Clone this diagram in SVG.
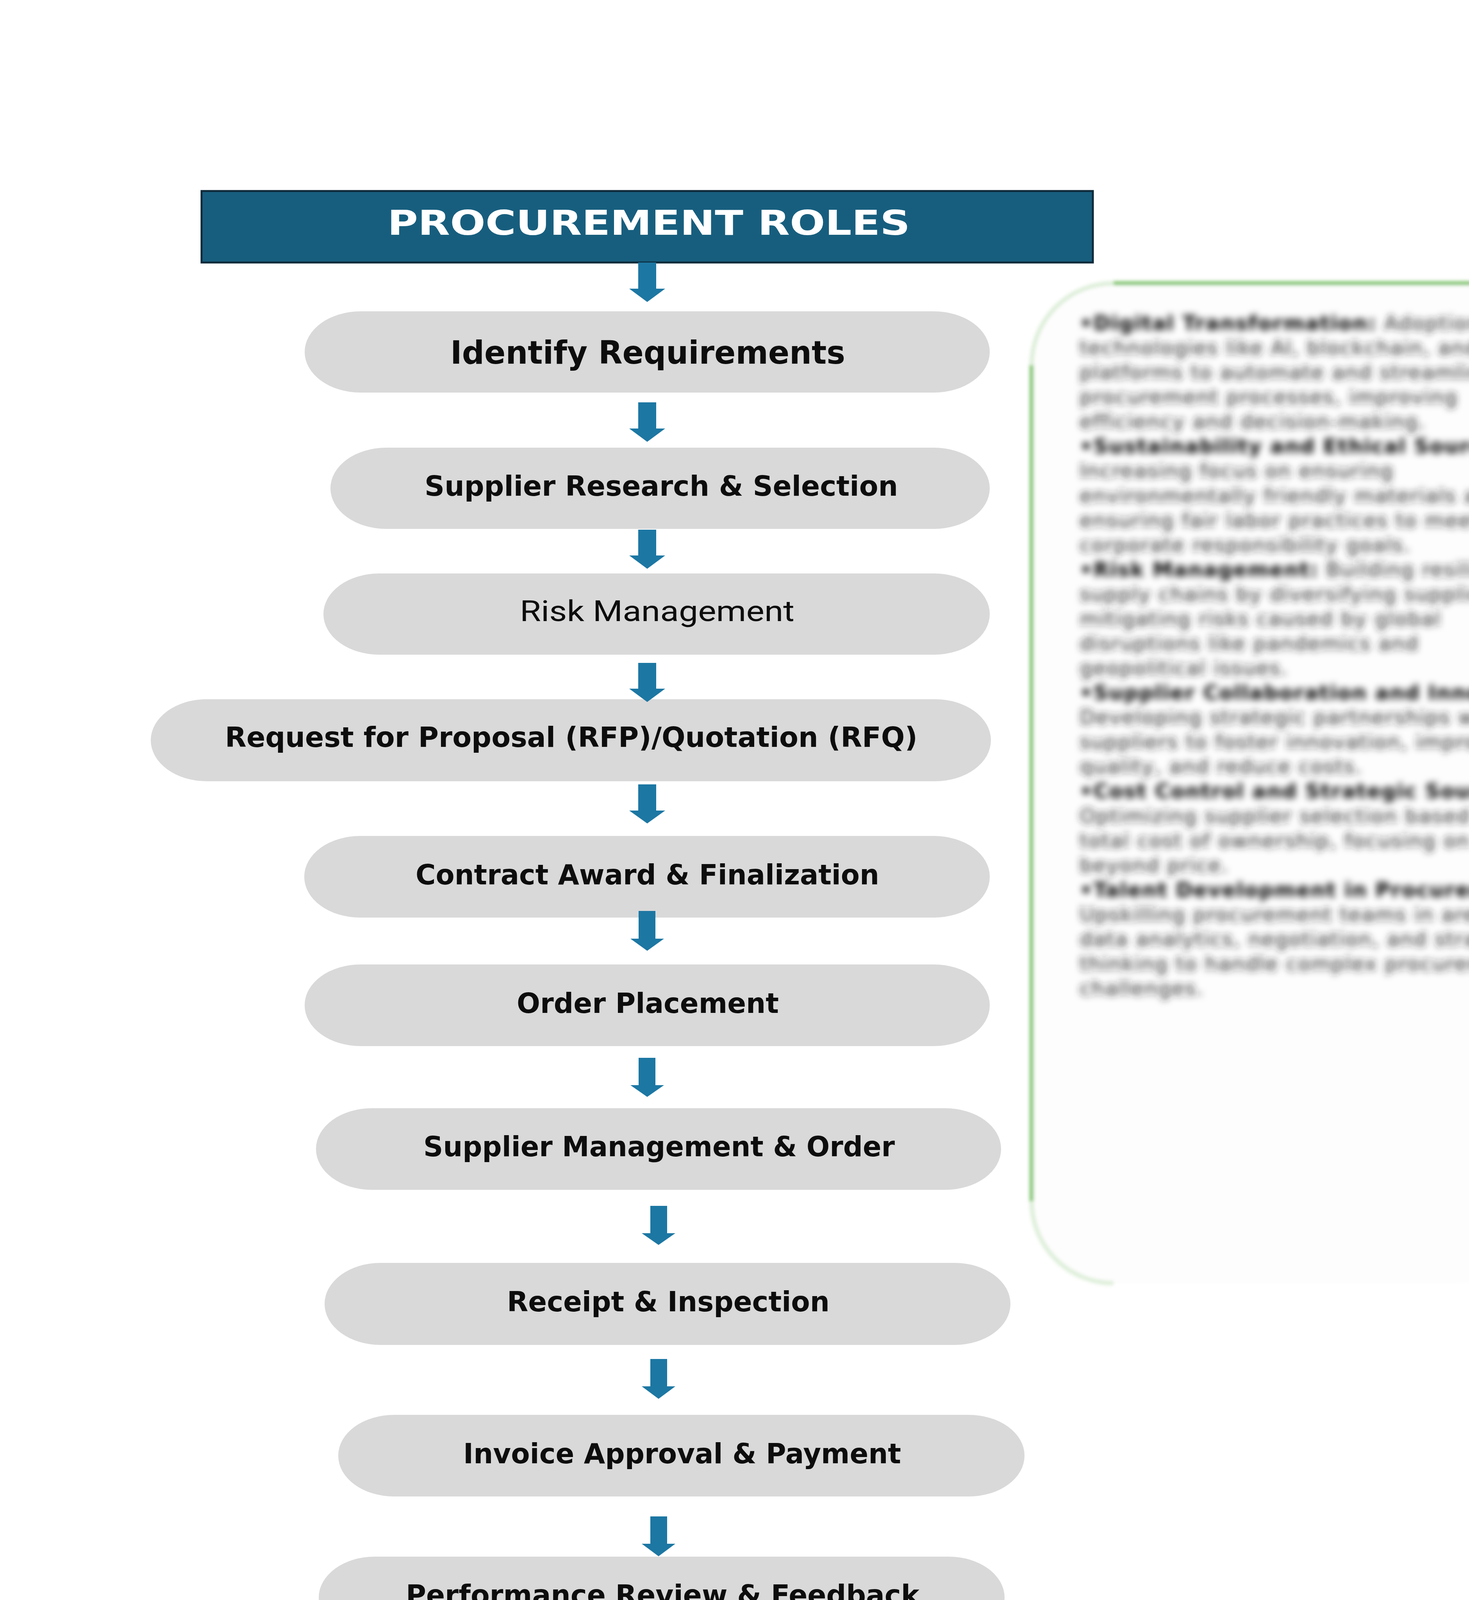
<svg xmlns="http://www.w3.org/2000/svg" width="3761" height="4146" viewBox="0 0 3761 4146">
<defs>
<style>
.pill{fill:#d9d9d9;}
.lbl{font-family:"DejaVu Sans","Liberation Sans",sans-serif;font-weight:bold;fill:#0d0d0d;font-size:72px;}
.lblr{font-family:Roboto,"Liberation Sans",sans-serif;font-weight:normal;fill:#0d0d0d;font-size:75px;}
.arrow{fill:#1c77a3;}
.ptxt{font-family:"DejaVu Sans","Liberation Sans",sans-serif;font-size:52px;letter-spacing:2px;fill:#262626;}
.pb{font-weight:bold;fill:#000;}
.gl{fill:none;stroke:#8cc97a;stroke-width:11;}
.glc{fill:none;stroke:#8cc97a;stroke-width:11;opacity:0.3;}
</style>
<filter id="blurT" filterUnits="userSpaceOnUse" x="2550" y="650" width="1300" height="2750">
<feGaussianBlur stdDeviation="9"/>
</filter>
<filter id="blurB" filterUnits="userSpaceOnUse" x="2550" y="650" width="1300" height="2750">
<feGaussianBlur stdDeviation="4"/>
</filter>
</defs>
<rect x="0" y="0" width="3761" height="4146" fill="#ffffff"/>

<g id="header">
<rect x="516" y="489" width="2282" height="183" fill="#175e7e" stroke="#0e2a3a" stroke-width="5"/>
<text x="992" y="601" textLength="1338" lengthAdjust="spacingAndGlyphs" style="font-family:'DejaVu Sans','Liberation Sans',sans-serif;font-weight:bold;font-size:88px;fill:#ffffff;">PROCUREMENT ROLES</text>
</g>

<g id="trends-panel">
<g filter="url(#blurB)">
<rect x="2641" y="725" width="1300" height="2560" rx="210" ry="210" fill="#fdfdfd"/>
<path class="gl" d="M2641,935 L2641,3075"/>
<path class="gl" d="M2851,725 L3775,725"/>
<path class="glc" d="M2641,935 A210,210 0 0 1 2851,725"/>
<path class="glc" d="M2641,3075 A210,210 0 0 0 2851,3285"/>
</g>
<g filter="url(#blurT)" class="ptxt">
<text x="2764" y="845"><tspan class="pb">•Digital Transformation:</tspan> Adoption of</text>
<text x="2764" y="908">technologies like AI, blockchain, and</text>
<text x="2764" y="971">platforms to automate and streamline</text>
<text x="2764" y="1034">procurement processes, improving</text>
<text x="2764" y="1097">efficiency and decision-making.</text>
<text x="2764" y="1160"><tspan class="pb">•Sustainability and Ethical Sourcing:</tspan></text>
<text x="2764" y="1223">Increasing focus on ensuring</text>
<text x="2764" y="1287">environmentally friendly materials and</text>
<text x="2764" y="1350">ensuring fair labor practices to meet</text>
<text x="2764" y="1413">corporate responsibility goals.</text>
<text x="2764" y="1476"><tspan class="pb">•Risk Management:</tspan> Building resilient</text>
<text x="2764" y="1539">supply chains by diversifying suppliers</text>
<text x="2764" y="1602">mitigating risks caused by global</text>
<text x="2764" y="1665">disruptions like pandemics and</text>
<text x="2764" y="1728">geopolitical issues.</text>
<text x="2764" y="1791"><tspan class="pb">•Supplier Collaboration and Innovation:</tspan></text>
<text x="2764" y="1854">Developing strategic partnerships with</text>
<text x="2764" y="1917">suppliers to foster innovation, improve</text>
<text x="2764" y="1980">quality, and reduce costs.</text>
<text x="2764" y="2043"><tspan class="pb">•Cost Control and Strategic Sourcing:</tspan></text>
<text x="2764" y="2107">Optimizing supplier selection based on</text>
<text x="2764" y="2170">total cost of ownership, focusing on</text>
<text x="2764" y="2233">beyond price.</text>
<text x="2764" y="2296"><tspan class="pb">•Talent Development in Procurement:</tspan></text>
<text x="2764" y="2359">Upskilling procurement teams in areas</text>
<text x="2764" y="2422">data analytics, negotiation, and strategic</text>
<text x="2764" y="2485">thinking to handle complex procurement</text>
<text x="2764" y="2548">challenges.</text>
</g>
</g>

<g id="n1"><rect class="pill" x="780" y="797" width="1754" height="208" rx="143" ry="104"/>
<text class="lbl" x="1153" y="931" style="font-size:82px" textLength="1011" lengthAdjust="spacingAndGlyphs">Identify Requirements</text></g>
<g id="n2"><rect class="pill" x="846" y="1146" width="1688" height="208" rx="143" ry="104"/>
<text class="lbl" x="1087" y="1269" textLength="1212" lengthAdjust="spacingAndGlyphs">Supplier Research &amp; Selection</text></g>
<g id="n3"><rect class="pill" x="828" y="1468" width="1706" height="208" rx="143" ry="104"/>
<text class="lblr" x="1331" y="1590" textLength="703" lengthAdjust="spacingAndGlyphs">Risk Management</text></g>
<g id="n4"><rect class="pill" x="386" y="1790" width="2151" height="210" rx="143" ry="105"/>
<text class="lbl" x="576" y="1912" textLength="1773" lengthAdjust="spacingAndGlyphs">Request for Proposal (RFP)/Quotation (RFQ)</text></g>
<g id="n5"><rect class="pill" x="779" y="2140" width="1755" height="209" rx="143" ry="104"/>
<text class="lbl" x="1064" y="2264" textLength="1187" lengthAdjust="spacingAndGlyphs">Contract Award &amp; Finalization</text></g>
<g id="n6"><rect class="pill" x="780" y="2469" width="1754" height="209" rx="143" ry="104"/>
<text class="lbl" x="1323" y="2593" textLength="671" lengthAdjust="spacingAndGlyphs">Order Placement</text></g>
<g id="n7"><rect class="pill" x="809" y="2837" width="1754" height="209" rx="143" ry="104"/>
<text class="lbl" x="1084" y="2960" textLength="1207" lengthAdjust="spacingAndGlyphs">Supplier Management &amp; Order</text></g>
<g id="n8"><rect class="pill" x="831" y="3233" width="1756" height="210" rx="143" ry="105"/>
<text class="lbl" x="1298" y="3357" textLength="826" lengthAdjust="spacingAndGlyphs">Receipt &amp; Inspection</text></g>
<g id="n9"><rect class="pill" x="866" y="3622" width="1757" height="209" rx="143" ry="104"/>
<text class="lbl" x="1186" y="3746" textLength="1121" lengthAdjust="spacingAndGlyphs">Invoice Approval &amp; Payment</text></g>
<g id="n10"><rect class="pill" x="816" y="3985" width="1756" height="210" rx="143" ry="105"/>
<text class="lbl" x="1039" y="4108" textLength="1315" lengthAdjust="spacingAndGlyphs">Performance Review &amp; Feedback</text></g>

<g id="connectors">
<polygon class="arrow" points="1634,672 1680,672 1680,739 1703,739 1657,773 1611,739 1634,739"/>
<polygon class="arrow" points="1634,1030 1680,1030 1680,1097 1703,1097 1657,1131 1611,1097 1634,1097"/>
<polygon class="arrow" points="1634,1356 1680,1356 1680,1422 1703,1422 1657,1456 1611,1422 1634,1422"/>
<polygon class="arrow" points="1634,1697 1680,1697 1680,1763 1703,1763 1657,1797 1611,1763 1634,1763"/>
<polygon class="arrow" points="1634,2008 1680,2008 1680,2075 1703,2075 1657,2108 1611,2075 1634,2075"/>
<polygon class="arrow" points="1635,2332 1678,2332 1678,2403 1700,2403 1657,2434 1614,2403 1635,2403"/>
<polygon class="arrow" points="1635,2708 1678,2708 1678,2778 1700,2778 1657,2808 1614,2778 1635,2778"/>
<polygon class="arrow" points="1665,3087 1708,3087 1708,3157 1729,3157 1686,3187 1643,3157 1665,3157"/>
<polygon class="arrow" points="1665,3479 1708,3479 1708,3549 1729,3549 1686,3581 1643,3549 1665,3549"/>
<polygon class="arrow" points="1665,3882 1708,3882 1708,3952 1729,3952 1686,3984 1643,3952 1665,3952"/>
</g>
</svg>
